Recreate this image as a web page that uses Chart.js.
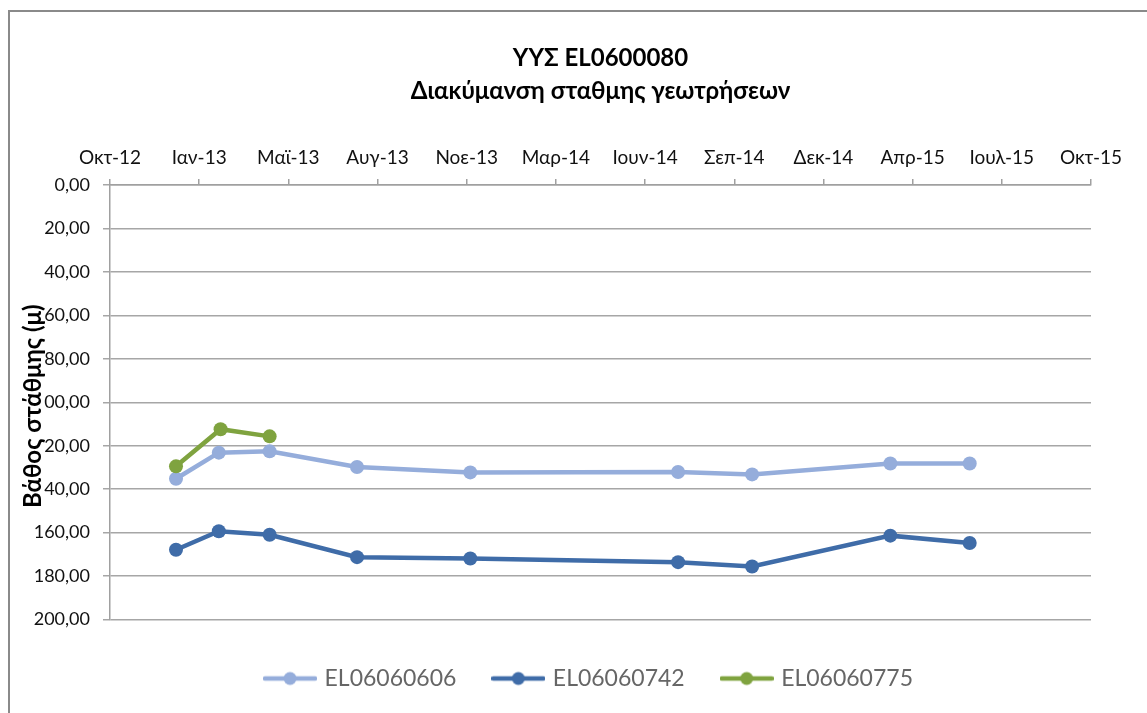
<!DOCTYPE html>
<html>
<head>
<meta charset="utf-8">
<script src="https://cdn.jsdelivr.net/npm/chart.js@4.4.1/dist/chart.umd.min.js"></script>
<style>
  html, body { margin: 0; padding: 0; background: #fff; overflow: hidden; }
  #frame { position: absolute; left: 8px; top: 10px; width: 1300px; height: 800px;
           border-left: 2px solid #8a8a8a; border-top: 2px solid #8a8a8a; }
  #wrap { position: absolute; left: 0; top: 0; width: 1200px; height: 713px; }
</style>
</head>
<body>
<div id="frame"></div>
<div id="wrap"><canvas id="chart" width="1200" height="713"></canvas></div>
<script>
// measurement dates and water-table depths (m) per borehole
const seriesNames = ['EL06060606', 'EL06060742', 'EL06060775'];
const seriesColors = ['#95addb', '#3f6ca8', '#7fa33f'];

const datesA = ['2013-01-02', '2013-02-19', '2013-04-17', '2013-07-24', '2013-11-28',
                '2014-07-19', '2014-10-10', '2015-03-14', '2015-06-11'];
const depthA = [135.2, 123.2, 122.6, 129.8, 132.3, 132.1, 133.2, 128.2, 128.2];

const datesB = ['2013-01-02', '2013-02-19', '2013-04-17', '2013-07-24', '2013-11-28',
                '2014-07-19', '2014-10-10', '2015-03-14', '2015-06-11'];
const depthB = [167.9, 159.4, 161.0, 171.3, 171.9, 173.6, 175.6, 161.4, 164.8];

const datesC = ['2013-01-02', '2013-02-21', '2013-04-17'];
const depthC = [129.5, 112.4, 115.7];

// date axis: starts 20 Oct 2012, one tick every 100 days
const axisStart = '2012-10-20';
const tickDays = 100;
const tickLabels = ['Οκτ-12', 'Ιαν-13', 'Μαϊ-13', 'Αυγ-13', 'Νοε-13', 'Μαρ-14',
                    'Ιουν-14', 'Σεπ-14', 'Δεκ-14', 'Απρ-15', 'Ιουλ-15', 'Οκτ-15'];

const titleLines = ['ΥΥΣ EL0600080', 'Διακύμανση σταθμης γεωτρήσεων'];
const yTitle = 'Βάθος στάθμης (μ)';

const FONT = 'Lato, "Open Sans", sans-serif';

function dayNum(s) {
  const [y, m, d] = s.split('-').map(Number);
  return Date.UTC(y, m - 1, d) / 86400000;
}

function points(dates, vals) {
  return dates.map((d, i) => ({ x: dayNum(d), y: vals[i] }));
}

const xMin = dayNum(axisStart);
const xMax = xMin + tickDays * (tickLabels.length - 1);

// legend sample: short line with a marker in the middle
function legendSample(color) {
  const c = document.createElement('canvas');
  c.width = 54; c.height = 16;
  const g = c.getContext('2d');
  g.strokeStyle = color; g.lineWidth = 4.5; g.lineCap = 'round';
  g.beginPath(); g.moveTo(2, 8); g.lineTo(52, 8); g.stroke();
  g.fillStyle = color;
  g.beginPath(); g.arc(27, 8, 6.5, 0, Math.PI * 2); g.fill();
  return c;
}

// rotated y title sitting over the tick labels, on a white box
const yTitlePlugin = {
  id: 'yTitle',
  afterDraw(chart) {
    const { ctx, chartArea } = chart;
    const cy = (chartArea.top + chartArea.bottom) / 2 + 4;
    ctx.save();
    ctx.translate(41, cy);
    ctx.rotate(-Math.PI / 2);
    ctx.font = 'bold 24px ' + FONT;
    const w = ctx.measureText(yTitle).width;
    ctx.fillStyle = '#fff';
    ctx.fillRect(-w / 2 - 2, -19, w + 4, 21);
    ctx.fillStyle = '#000';
    ctx.textAlign = 'center';
    ctx.textBaseline = 'alphabetic';
    ctx.fillText(yTitle, 0, 0);
    ctx.restore();
  }
};

const datasets = [
  { label: seriesNames[0], data: points(datesA, depthA), order: 3 },
  { label: seriesNames[1], data: points(datesB, depthB), order: 2 },
  { label: seriesNames[2], data: points(datesC, depthC), order: 1 }
].map((ds, i) => Object.assign(ds, {
  borderColor: seriesColors[i],
  backgroundColor: seriesColors[i],
  pointBackgroundColor: seriesColors[i],
  pointBorderColor: seriesColors[i],
  borderWidth: 4.5,
  pointRadius: 7,
  pointBorderWidth: 0,
  tension: 0
}));

const config = {
  type: 'line',
  data: { datasets },
  options: {
    responsive: false,
    animation: false,
    layout: { padding: { left: 0, right: 20, top: 0, bottom: 13 } },
    plugins: {
      title: {
        display: true,
        text: titleLines,
        fullSize: false,
        color: '#000',
        font: { family: FONT, size: 24, weight: 'bold', lineHeight: '33px' },
        padding: { top: 42, bottom: 8 }
      },
      legend: {
        position: 'bottom',
        title: { display: true, text: '', padding: 0, font: { size: 8, lineHeight: '8.5px' } },
        labels: {
          usePointStyle: true,
          pointStyleWidth: 46,
          padding: 39,
          color: '#000',
          font: { family: FONT, size: 23 },
          generateLabels: chart => chart.data.datasets.map((ds, i) => ({
            text: ds.label,
            pointStyle: legendSample(seriesColors[i]),
            fillStyle: seriesColors[i],
            strokeStyle: seriesColors[i],
            lineWidth: 0,
            datasetIndex: i,
            hidden: false
          }))
        }
      },
      tooltip: { enabled: false }
    },
    scales: {
      x: {
        type: 'linear',
        position: 'top',
        min: xMin,
        max: xMax,
        afterFit: s => { s.height = 185 - 116; },
        grid: { drawOnChartArea: false, tickLength: 6, color: '#a0a0a0', lineWidth: 1.5 },
        border: { color: '#a0a0a0', width: 1.5 },
        ticks: {
          stepSize: tickDays,
          autoSkip: false,
          maxRotation: 0,
          padding: 10,
          color: '#111',
          font: { family: FONT, size: 19 },
          callback: (v, i) => tickLabels[i]
        }
      },
      y: {
        reverse: true,
        min: 0,
        max: 200,
        afterFit: s => { s.width = 110; },
        grid: { tickLength: 7, color: '#a6a6a6', lineWidth: 1.5 },
        border: { color: '#a0a0a0', width: 1.5 },
        ticks: {
          stepSize: 20,
          padding: 13,
          color: '#111',
          font: { family: FONT, size: 18 },
          callback: v => v.toFixed(2).replace('.', ',')
        }
      },
      // empty right-hand strip so the legend centres like the page layout
      spacer: {
        position: 'right',
        display: true,
        afterFit: s => { s.width = 89; },
        grid: { display: false, drawTicks: false },
        border: { display: false },
        ticks: { display: false }
      }
    }
  },
  plugins: [yTitlePlugin]
};

const chart = new Chart(document.getElementById('chart'), config);
</script>
</body>
</html>
